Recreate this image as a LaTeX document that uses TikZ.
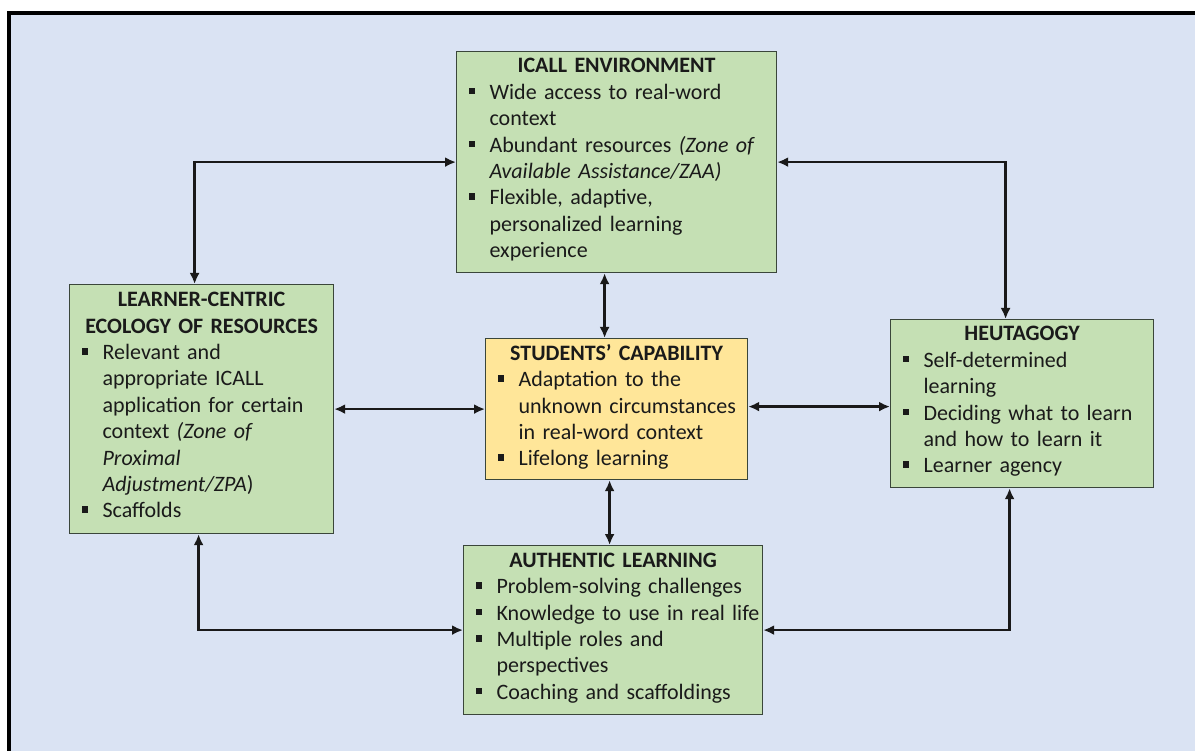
\documentclass[tikz,border=0pt]{standalone}
\usepackage{fontspec}
\setmainfont{Carlito}
\usetikzlibrary{arrows.meta}
\definecolor{bgblue}{HTML}{DAE3F3}
\definecolor{gfill}{HTML}{C5E0B4}
\definecolor{yfill}{HTML}{FFE699}
\definecolor{txt}{HTML}{1A1A1A}
\definecolor{bord}{HTML}{3A463A}
\newcommand{\boxtitle}[1]{{\centering\bfseries #1\par}}
\newcommand{\bul}{\makebox[21pt][l]{\rule[5pt]{6.5pt}{6.5pt}}}
\newenvironment{blist}{\noindent\begin{tabular}[t]{@{\hspace{12pt}}l@{}l@{}}}{\end{tabular}}
\begin{document}
\begin{tikzpicture}[x=1pt,y=-1pt,
  box/.style={draw=bord, line width=1.2pt, inner sep=0pt, anchor=north west,
    font=\fontsize{22}{26.4}\selectfont, text=txt},
  conn/.style={line width=2.4pt, draw=black!90,
    {Latex[length=11pt,width=10pt]}-{Latex[length=11pt,width=10pt]}}]
\useasboundingbox (0,0) rectangle (1195,751);
\fill[white] (0,0) rectangle (1195,751);
\begin{scope}
\clip (0,0) rectangle (1195,751);
\draw[line width=4pt, fill=bgblue] (9,13) rectangle (1215,775);
\end{scope}

\node[box, fill=gfill, text width=320pt, minimum height=221pt] (I) at (456,51) {%
\boxtitle{ICALL ENVIRONMENT}
\begin{blist}
\bul & Wide access to real-word\\
 & context\\
\bul & Abundant resources \textit{(Zone of}\\
 & \textit{Available Assistance/ZAA)}\\
\bul & Flexible, adaptive,\\
 & personalized learning\\
 & experience
\end{blist}};

\node[box, fill=gfill, text width=264pt, minimum height=249pt] (L) at (69,284) {%
\boxtitle{LEARNER-CENTRIC\\ECOLOGY OF RESOURCES}
\begin{blist}
\bul & Relevant and\\
 & appropriate ICALL\\
 & application for certain\\
 & context \textit{(Zone of}\\
 & \textit{Proximal}\\
 & \textit{Adjustment/ZPA})\\
\bul & Scaffolds
\end{blist}};

\node[box, fill=yfill, text width=262pt, minimum height=141pt] (C) at (485,338) {%
\boxtitle{STUDENTS’ CAPABILITY}
\begin{blist}
\bul & Adaptation to the\\
 & unknown circumstances\\
 & in real-word context\\
\bul & Lifelong learning
\end{blist}};

\node[box, fill=gfill, text width=263pt, minimum height=168pt] (R) at (890,319) {%
\boxtitle{HEUTAGOGY}
\begin{blist}
\bul & Self-determined\\
 & learning\\
\bul & Deciding what to learn\\
 & and how to learn it\\
\bul & Learner agency
\end{blist}};

\node[box, fill=gfill, text width=299pt, minimum height=169pt] (B) at (463,545) {%
\boxtitle{AUTHENTIC LEARNING}
\begin{blist}
\bul & Problem-solving challenges\\
\bul & Knowledge to use in real life\\
\bul & Multiple roles and\\
 & perspectives\\
\bul & Coaching and scaffoldings
\end{blist}};

\draw[conn] ([xshift=-7pt]L.north) |- (I.west);
\draw[conn] (I.east) -| ([xshift=-16.5pt]R.north);
\draw[conn] ([xshift=-12pt]I.south) -- ([xshift=-12pt]I.south |- C.north);
\draw[conn] ([xshift=-7pt]C.south) -- ([xshift=-7pt]C.south |- B.north);
\draw[conn] (L.east) -- (C.west);
\draw[conn] ([yshift=2.5pt]C.east) -- ([yshift=2.5pt]C.east -| R.west);
\draw[conn] ([xshift=-3pt]L.south) |- (B.west);
\draw[conn] ([xshift=-12.5pt]R.south) |- (B.east);
\end{tikzpicture}
\end{document}
